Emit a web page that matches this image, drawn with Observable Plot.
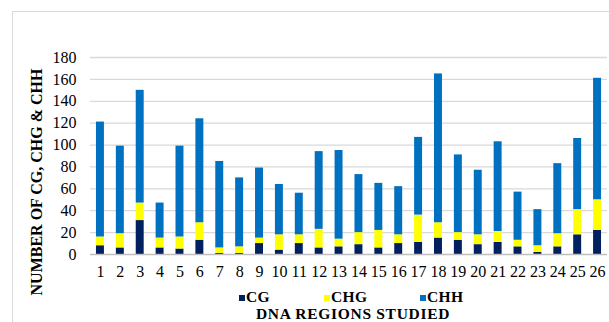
<!DOCTYPE html>
<html>
<head>
<meta charset="utf-8">
<script src="https://cdn.jsdelivr.net/npm/d3@7"></script>
<script src="https://cdn.jsdelivr.net/npm/@observablehq/plot@0.6"></script>
<style>
  body { margin: 0; background: #fff; }
  #chart { position: relative; width: 609px; height: 322px; overflow: hidden; background: #fff;
           font-family: "Liberation Serif", "Times New Roman", serif; }
  #frame { position: absolute; left: 12px; top: 11px; width: 620px; height: 330px;
           border: 1px solid #d9d9d9; box-sizing: border-box; }
  #plot { position: absolute; left: 0; top: 0; }
  #ytitle { position: absolute; left: 37px; top: 182px; transform: translate(-50%, -50%) rotate(-90deg);
            white-space: nowrap; font-weight: bold; font-size: 16px; line-height: 16px; color: #000; }
  .leg { position: absolute; top: 287.5px; font-weight: bold; font-size: 15.5px; line-height: 17px;
         letter-spacing: 0.4px; color: #000; white-space: nowrap; }
  .sw { display: inline-block; width: 6px; height: 6px; margin-right: 1px; vertical-align: 1px; }
  #xtitle { position: absolute; top: 304.7px; left: 353px; transform: translateX(-50%);
            font-weight: bold; font-size: 15.5px; line-height: 17px; letter-spacing: 0.7px;
            color: #000; white-space: nowrap; }
</style>
</head>
<body>
<div id="chart">
  <div id="frame"></div>
  <div id="plot"></div>
  <div id="ytitle">NUMBER OF CG, CHG &amp; CHH</div>
  <div id="legend"></div>
  <div id="xtitle">DNA REGIONS STUDIED</div>
</div>
<script>
// DNA regions 1–26 and the count of each methylation context per region
const regions = ["1","2","3","4","5","6","7","8","9","10","11","12","13","14","15","16","17","18","19","20","21","22","23","24","25","26"];
const cg  = [8, 6, 31, 6, 5, 13, 1, 1, 10, 4, 10, 6, 7, 9, 6, 10, 11, 15, 13, 9, 11, 7, 2, 7, 18, 22];
const chg = [8, 13, 16, 9, 11, 16, 5, 6, 5, 14, 8, 17, 7, 11, 16, 8, 25, 14, 7, 9, 10, 6, 6, 12, 23, 28];
const chh = [105, 80, 103, 32, 83, 95, 79, 63, 64, 46, 38, 71, 81, 53, 43, 44, 71, 136, 71, 59, 82, 44, 33, 64, 65, 111];
const contexts = ["CG", "CHG", "CHH"];
const colors = ["#002060", "#ffff00", "#0070c0"];
const yTicks = [0, 20, 40, 60, 80, 100, 120, 140, 160, 180];

const series = {CG: cg, CHG: chg, CHH: chh};
const rows = contexts.flatMap(c => regions.map((r, i) => ({region: r, context: c, value: series[c][i]})));

const chart = Plot.plot({
  width: 609,
  height: 286,
  marginTop: 57,
  marginBottom: 32,
  marginLeft: 90,
  marginRight: 2,
  style: {fontFamily: "'Liberation Serif', 'Times New Roman', serif", fontSize: "16px", color: "#000", background: "transparent"},
  x: {domain: regions, paddingInner: 0.6, paddingOuter: 0.3, round: false, label: null, tickSize: 0, tickPadding: 11},
  y: {domain: [0, 180], ticks: yTicks, label: null, tickSize: 0, tickPadding: 14, grid: false},
  color: {domain: contexts, range: colors},
  marks: [
    Plot.ruleY(yTicks.filter(d => d > 0), {stroke: "#d9d9d9", strokeWidth: 1.3, strokeOpacity: 1}),
    Plot.barY(rows, Plot.stackY({order: contexts}, {x: "region", y: "value", fill: "context", z: "context"})),
    Plot.ruleY([0], {stroke: "#bfbfbf", strokeWidth: 1.3})
  ]
});
document.getElementById("plot").appendChild(chart);

// legend row
const legendX = [239, 324, 420];
const legend = document.getElementById("legend");
contexts.forEach((c, i) => {
  const item = document.createElement("div");
  item.className = "leg";
  item.style.left = legendX[i] + "px";
  item.innerHTML = `<span class="sw" style="background:${colors[i]}"></span>${c}`;
  legend.appendChild(item);
});
</script>
</body>
</html>
